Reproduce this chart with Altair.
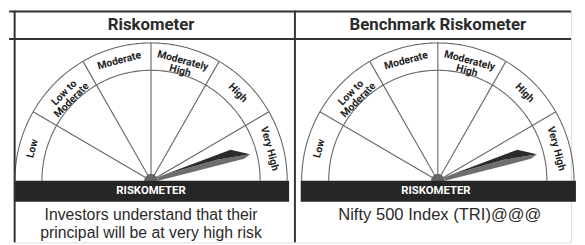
import math
import pandas as pd
import altair as alt

# ---------------- data ----------------
risk_levels = ["Low", "Low to\nModerate", "Moderate", "Moderately\nHigh", "High", "Very High"]
panel_titles = ["Riskometer", "Benchmark Riskometer"]
panel_risk = ["Very High", "Very High"]
panel_captions = ["Investors understand that their\nprincipal will be at very high risk",
                  "Nifty 500 Index (TRI)@@@"]
dial_caption = ["RISKOMETER", "RISKOMETER"]

# ---------------- layout (page pixels) ----------------
PAGE_W, PAGE_H, MARGIN = 585, 245, 8
centers_x = [150, 447]
CY = 182
R_OUT, R_IN, R_LABEL = 141, 113, 127
bar_x = [(8, 293), (305, 590)]
BAR_Y = (182, 203.5)
NEEDLE_LEN = 104

BOLD_FONT = "Roboto, Liberation Sans, sans-serif"
REGULAR = "Liberation Sans, Arial, sans-serif"

xs = alt.Scale(domain=[MARGIN, PAGE_W], nice=False, zero=False)
ys = alt.Scale(domain=[PAGE_H, MARGIN], nice=False, zero=False)

plain = [lvl.replace("\n", " ") for lvl in risk_levels]
n = len(risk_levels)
step = 180.0 / n

# arcs
arc_rows = []
for p, cx in enumerate(centers_x):
    for r in (R_IN, R_OUT):
        for d in range(0, 181):
            t = math.radians(d)
            arc_rows.append(dict(arc=f"{p}-{r}", o=d,
                                 x=cx + r * math.cos(t), y=CY - r * math.sin(t)))
arcs = pd.DataFrame(arc_rows)

# spokes (segment boundaries)
sp_rows = []
for p, cx in enumerate(centers_x):
    for i in range(1, n):
        t = math.radians(180 - i * step)
        sp_rows.append(dict(x=cx, y=CY, x2=cx + R_OUT * math.cos(t), y2=CY - R_OUT * math.sin(t)))
spokes = pd.DataFrame(sp_rows)

# segment labels
lab_rows = []
for p, cx in enumerate(centers_x):
    for i, lvl in enumerate(risk_levels):
        a = 180 - (i + 0.5) * step
        t = math.radians(a)
        lab_rows.append(dict(label=lvl, x=cx + R_LABEL * math.cos(t), y=CY - R_LABEL * math.sin(t),
                             rot=(90 - a) % 360))
labels = pd.DataFrame(lab_rows)

# needles
nd_rows = []
for p, cx in enumerate(centers_x):
    idx = plain.index(panel_risk[p])
    a = 180 - (idx + 0.5) * step
    nd_rows.append(dict(x=cx, y=CY, rot=(-a) % 360))
needles = pd.DataFrame(nd_rows)

def path(pts):
    return "M" + " L".join(f"{u / NEEDLE_LEN:.4f},{v / NEEDLE_LEN:.4f}" for u, v in pts) + " Z"

gray_face = path([(7, -1.6), (15, -2.6), (70, -3.2), (104, 0), (97, 3), (7, 1.8)])
dark_face = path([(15, -2.6), (86, -9.5), (104, 0), (70, -3.2)])
needle_size = (2 * NEEDLE_LEN) ** 2

bars = pd.DataFrame([dict(x=a, x2=b, y=BAR_Y[0], y2=BAR_Y[1], label=dial_caption[i],
                          cx=centers_x[i] - (0 if i == 0 else 2), cy=(BAR_Y[0] + BAR_Y[1]) / 2)
                     for i, (a, b) in enumerate(bar_x)])

titles = pd.DataFrame([dict(label=t, x=centers_x[i], y=22.5) for i, t in enumerate(panel_titles)])
captions = pd.DataFrame([dict(label=c, x=centers_x[i] + (0 if i == 0 else 2), y=222,
                              fs=16 if i == 0 else 16.8)
                         for i, c in enumerate(panel_captions)])

table_lines = pd.DataFrame([
    dict(x=3, x2=PAGE_W, y=9, y2=9),
    dict(x=3, x2=PAGE_W, y=37, y2=37),
    dict(x=8.75, x2=8.75, y=8, y2=PAGE_H),
    dict(x=299, x2=299, y=8, y2=PAGE_H),
])

X = lambda f="x": alt.X(f"{f}:Q", scale=xs, axis=None)
Y = lambda f="y": alt.Y(f"{f}:Q", scale=ys, axis=None)

arc_layer = alt.Chart(arcs).mark_line(color="#666666", strokeWidth=1.1).encode(
    x=X(), y=Y(), detail="arc:N", order="o:Q")

spoke_layer = alt.Chart(spokes).mark_rule(color="#666666", strokeWidth=1.1).encode(
    x=X(), y=Y(), x2="x2:Q", y2="y2:Q")

pivot_layer = alt.Chart(needles).mark_point(shape="circle", filled=True, fill="#666666",
                                            size=196, opacity=1, strokeWidth=0).encode(x=X(), y=Y())

gray_layer = alt.Chart(needles).mark_point(shape=gray_face, filled=True, fill="#6e6e6e",
                                           size=needle_size, opacity=1, strokeWidth=0).encode(
    x=X(), y=Y(), angle=alt.Angle("rot:Q", scale=None))
dark_layer = alt.Chart(needles).mark_point(shape=dark_face, filled=True, fill="#2b2b2b",
                                           size=needle_size, opacity=1, strokeWidth=0).encode(
    x=X(), y=Y(), angle=alt.Angle("rot:Q", scale=None))

bar_layer = alt.Chart(bars).mark_rect(color="#262626").encode(
    x=X(), x2="x2:Q", y=Y(), y2="y2:Q")
bar_text = alt.Chart(bars).mark_text(font=BOLD_FONT, fontWeight="bold", fontSize=11.5, color="white",
                                     baseline="middle", align="center").encode(
    x=X("cx"), y=Y("cy"), text="label:N")

label_layer = alt.Chart(labels).mark_text(font=BOLD_FONT, fontWeight="bold", fontSize=10.5,
                                          color="#222222", baseline="middle", align="center",
                                          lineBreak="\n", lineHeight=10.5).encode(
    x=X(), y=Y(), text="label:N", angle=alt.Angle("rot:Q", scale=None))

title_layer = alt.Chart(titles).mark_text(font=BOLD_FONT, fontWeight="bold", fontSize=17,
                                          color="#2a2a2a", baseline="middle", align="center").encode(
    x=X(), y=Y(), text="label:N")

caption_layer = alt.Chart(captions).mark_text(font=REGULAR, color="#2a2a2a",
                                              baseline="alphabetic", align="center",
                                              lineBreak="\n", lineHeight=18).encode(
    x=X(), y=Y(), text="label:N", size=alt.Size("fs:Q", scale=None))

line_layer = alt.Chart(table_lines).mark_rule(color="#333333", strokeWidth=2).encode(
    x=X(), y=Y(), x2="x2:Q", y2="y2:Q")

chart = alt.layer(
    arc_layer, spoke_layer, pivot_layer, gray_layer, dark_layer, bar_layer, bar_text,
    label_layer, title_layer, caption_layer, line_layer
).properties(
    width=PAGE_W - MARGIN, height=PAGE_H - MARGIN,
    autosize=alt.AutoSizeParams(type="fit", contains="padding"), padding=0,
).configure_view(strokeWidth=0).configure(background="white")

chart.save("out.html", embed_options={"renderer": "svg", "actions": False})
